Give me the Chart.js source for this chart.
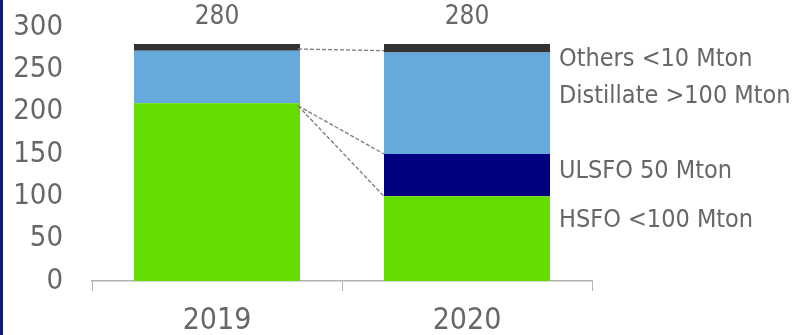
<!DOCTYPE html>
<html>
<head>
<meta charset="utf-8">
<script src="https://cdn.jsdelivr.net/npm/chart.js@4/dist/chart.umd.min.js"></script>
<style>
  html, body { margin: 0; padding: 0; background: #fff; }
  #wrap { position: relative; width: 809px; height: 335px; }
  #edge { position: absolute; left: 0; top: 0; width: 3px; height: 335px; background: #0b1a8c; }
</style>
</head>
<body>
<div id="wrap">
  <canvas id="myChart" width="809" height="335"></canvas>
  <div id="edge"></div>
</div>
<script>
// values (Mton)
const years = ['2019', '2020'];
const hsfo = [210, 100];
const ulsfo = [0, 50];
const distillate = [62, 120];
const others = [8, 10];
const yTicks = [0, 50, 100, 150, 200, 250, 300];

const seriesNames = ['HSFO', 'ULSFO', 'Distillate', 'Others'];
const seriesColors = ['#63dd00', '#000080', '#65a9dd', '#333333'];
const sideLabels = ['HSFO <100 Mton', 'ULSFO 50 Mton', 'Distillate >100 Mton', 'Others <10 Mton'];
// where each side label sits, in axis units
const sideLabelAt = [72, 129, 218, 262];

const FONT = "'DejaVu Sans Condensed', 'DejaVu Sans', sans-serif";
const TEXT = '#676767';

// dashed lines between the two bars, built from the stacks
const connectors = [
  [hsfo[0] + distillate[0] + 2, hsfo[1] + ulsfo[1] + distillate[1] + 2],
  [hsfo[0] - 3, hsfo[1] + ulsfo[1]],
  [hsfo[0] - 3, hsfo[1]]
];

const extras = {
  id: 'extras',
  afterDatasetsDraw(chart) {
    const ctx = chart.ctx;
    const y = chart.scales.y;
    const top = chart.getDatasetMeta(3).data;
    const b0 = top[0], b1 = top[1];

    ctx.save();
    // connectors
    ctx.strokeStyle = '#7a7a7a';
    ctx.lineWidth = 1.3;
    ctx.setLineDash([4, 2]);
    connectors.forEach(function (c) {
      ctx.beginPath();
      ctx.moveTo(b0.x + b0.width / 2 - 2, y.getPixelForValue(c[0]));
      ctx.lineTo(b1.x - b1.width / 2, y.getPixelForValue(c[1]));
      ctx.stroke();
    });
    ctx.setLineDash([]);

    // totals above the bars
    ctx.fillStyle = TEXT;
    ctx.font = '26px ' + FONT;
    ctx.textAlign = 'center';
    ctx.textBaseline = 'middle';
    years.forEach(function (yr, i) {
      const total = hsfo[i] + ulsfo[i] + distillate[i] + others[i];
      ctx.fillText(String(total), top[i].x, y.getPixelForValue(total) - 27);
    });

    // labels to the right of 2020
    ctx.font = '25px ' + FONT;
    ctx.textAlign = 'left';
    sideLabels.forEach(function (t, i) {
      ctx.fillText(t, b1.x + b1.width / 2 + 9, y.getPixelForValue(sideLabelAt[i]));
    });
    ctx.restore();
  }
};

const data = [hsfo, ulsfo, distillate, others];

new Chart('myChart', {
  type: 'bar',
  data: {
    labels: years,
    datasets: data.map(function (d, i) {
      return {
        label: seriesNames[i],
        data: d,
        backgroundColor: seriesColors[i],
        borderWidth: 0,
        categoryPercentage: 1,
        barPercentage: 0.664
      };
    })
  },
  options: {
    responsive: false,
    animation: false,
    events: [],
    layout: { padding: { left: 0, right: 217, top: 27, bottom: 0 } },
    plugins: { legend: { display: false }, tooltip: { enabled: false } },
    scales: {
      x: {
        stacked: true,
        afterFit: function (s) { s.height = 54; },
        grid: { display: true, drawOnChartArea: false, drawTicks: true, tickLength: 10, color: '#b3b3b3', offset: true },
        border: { display: true, color: '#b3b3b3', width: 1.5 },
        ticks: { color: TEXT, font: { family: FONT, size: 30 }, padding: 12 }
      },
      y: {
        stacked: true,
        min: 0,
        max: 300,
        afterFit: function (s) {
          s.width = 92;
          s.paddingTop = 0;
          s.paddingBottom = 0;
        },
        afterBuildTicks: function (s) { s.ticks = yTicks.map(function (v) { return { value: v }; }); },
        grid: { display: false, drawTicks: false },
        border: { display: false },
        ticks: { color: TEXT, font: { family: FONT, size: 29 }, padding: 29 }
      }
    }
  },
  plugins: [extras]
});
</script>
</body>
</html>
